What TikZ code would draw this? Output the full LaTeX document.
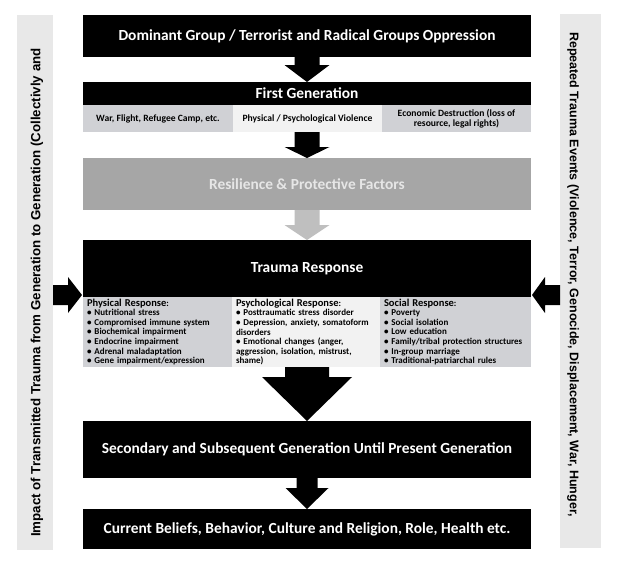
\documentclass[tikz,border=0pt]{standalone}
\usepackage{fontspec}
\setmainfont{Carlito}
\newfontfamily\arialfont{Liberation Sans}
\usetikzlibrary{calc}

\definecolor{subgray}{RGB}{208,209,213}
\definecolor{sublight}{RGB}{242,242,242}
\definecolor{resgray}{RGB}{166,166,166}
\definecolor{resarrow}{RGB}{191,191,191}
\definecolor{resfont}{RGB}{230,230,230}
\definecolor{sidegray}{RGB}{232,232,232}
\newcommand\respheadfont{\fontsize{10.5}{10.5}\selectfont}

\begin{document}
\begin{tikzpicture}[x=1pt, y=-1pt,
    box/.style={inner sep=0, outer sep=0, minimum width=448, font=\bfseries\fontsize{15.4}{18}\selectfont},
    blackbox/.style={box, fill=black, text=white},
    subbox/.style={inner sep=0, outer sep=0, minimum height=27, align=center, font=\bfseries\fontsize{9.6}{10}\selectfont},
    respbox/.style={inner xsep=4, inner ysep=0, outer sep=0, minimum height=70, align=left, font=\bfseries\fontsize{9}{9.6}\selectfont},
    sidebar/.style={fill=sidegray, inner sep=0, outer sep=0},
    sidetext/.style={inner sep=0, anchor=west}]

\useasboundingbox (0,0) rectangle (621,560);

% side bars
\node[sidebar, minimum width=36, minimum height=535] (leftbar) at (35,282.5) {};
\node[sidebar, minimum width=41, minimum height=534] (rightbar) at (580.5,281) {};
\node[sidetext, rotate=90, font=\arialfont\bfseries\fontsize{13.3}{15}\selectfont] (lefttext) at (37,537)
    {Impact of Transmitted Trauma from Generation to Generation (Collectivly and};
\node[sidetext, rotate=-90, font=\arialfont\bfseries\fontsize{12.5}{15}\selectfont] (righttext) at (573,32)
    {Repeated Trauma Events (Violence, Terror, Genocide, Displacement, War, Hunger,};

% main column
\node[blackbox, minimum height=42] (oppression) at (307,36)
    {Dominant Group / Terrorist and Radical Groups Oppression};
\node[blackbox, minimum height=23] (firstgen) at (307,93.5) {First Generation};
\node[subbox, fill=subgray, minimum width=150] (war) at (158,118.5) {War, Flight, Refugee Camp, etc.};
\node[subbox, fill=sublight, minimum width=149] (violence) at (307.5,118.5) {Physical / Psychological Violence};
\node[subbox, fill=subgray, minimum width=149] (economic) at (456.5,118.5)
    {Economic Destruction (loss of\\resource, legal rights)};
\node[box, fill=resgray, text=resfont, minimum height=52] (resilience) at (307,184)
    {Resilience \& Protective Factors};
\node[blackbox, minimum height=57] (trauma) at (307,268.5) {Trauma Response};

\node[respbox, fill=subgray, minimum width=149, text width=141] (physical) at (157.5,332)
    {{\respheadfont Physical Response}:\\
     \textbullet{} Nutritional stress\\
     \textbullet{} Compromised immune system\\
     \textbullet{} Biochemical impairment\\
     \textbullet{} Endocrine impairment\\
     \textbullet{} Adrenal maladaptation\\
     \textbullet{} Gene impairment/expression};
\node[respbox, fill=sublight, minimum width=148, text width=140] (psychological) at (306,332)
    {{\respheadfont Psychological Response}:\\
     \textbullet{} Posttraumatic stress disorder\\
     \textbullet{} Depression, anxiety, somatoform\\
     disorders\\
     \textbullet{} Emotional changes (anger,\\
     aggression, isolation, mistrust,\\
     shame)};
\node[respbox, fill=subgray, minimum width=151, text width=143] (social) at (455.5,332)
    {{\respheadfont Social Response}:\\
     \textbullet{} Poverty\\
     \textbullet{} Social isolation\\
     \textbullet{} Low education\\
     \textbullet{} Family/tribal protection structures\\
     \textbullet{} In-group marriage\\
     \textbullet{} Traditional-patriarchal rules};

\node[blackbox, minimum height=57] (secondary) at (307,449.5)
    {Secondary and Subsequent Generation Until Present Generation};
\node[blackbox, minimum height=40] (current) at (307,529)
    {Current Beliefs, Behavior, Culture and Religion, Role, Health etc.};

% block arrows: from/to/shaft/head/head length/colour
\foreach \a/\b/\s/\h/\l/\c in {oppression/firstgen/12.5/22.5/17/black,
                                war/resilience/12.5/22.5/11/black,
                                resilience/trauma/12.5/22.5/15/resarrow,
                                physical/secondary/22/45/44/black,
                                secondary/current/10.5/21.5/21/black}{
    \fill[\c] ($(\a.south -| \b.north)+(-\s,0)$) -- ($(\a.south -| \b.north)+(\s,0)$)
        -- ($(\b.north)+(\s,-\l)$) -- ($(\b.north)+(\h,-\l)$) -- (\b.north)
        -- ($(\b.north)+(-\h,-\l)$) -- ($(\b.north)+(-\s,-\l)$) -- cycle;
}

% side arrows
\coordinate (ltip) at (82,295);
\coordinate (rtip) at (532,295);
\fill[black] ($(leftbar.east |- ltip)+(0,-10)$) -- ($(ltip)+(-14,-10)$) -- ($(ltip)+(-14,-18)$)
    -- (ltip) -- ($(ltip)+(-14,18)$) -- ($(ltip)+(-14,10)$) -- ($(leftbar.east |- ltip)+(0,10)$) -- cycle;
\fill[black] ($(rightbar.west |- rtip)+(0,-10)$) -- ($(rtip)+(13,-10)$) -- ($(rtip)+(13,-18)$)
    -- (rtip) -- ($(rtip)+(13,18)$) -- ($(rtip)+(13,10)$) -- ($(rightbar.west |- rtip)+(0,10)$) -- cycle;
\end{tikzpicture}
\end{document}
